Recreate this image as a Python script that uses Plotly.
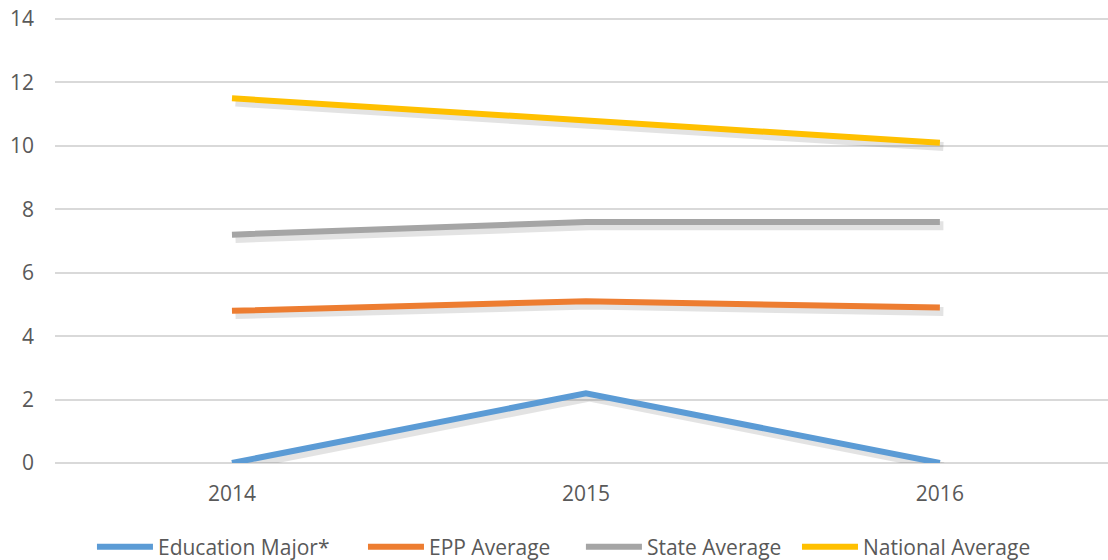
import plotly.graph_objects as go

years = ["2014", "2015", "2016"]
education_major = [0, 2.2, 0]
epp_average = [4.8, 5.1, 4.9]
state_average = [7.2, 7.6, 7.6]
national_average = [11.5, 10.8, 10.1]

series = [
    ("Education Major*", education_major, "#5B9BD5"),
    ("EPP Average", epp_average, "#ED7D31"),
    ("State Average", state_average, "#A5A5A5"),
    ("National Average", national_average, "#FFC000"),
]
legend_ids = ["legend", "legend2", "legend3", "legend4"]
legend_x = [0.0830, 0.3276, 0.5243, 0.7193]

fig = go.Figure()
xi = list(range(len(years)))
# soft drop shadows (derived from the series)
for name, vals, color in series:
    fig.add_trace(go.Scatter(
        x=[i + 0.01 for i in xi], y=[v - 0.12 for v in vals], mode="lines",
        line=dict(color="rgba(0,0,0,0.11)", width=9),
        showlegend=False, hoverinfo="skip"))
for (name, vals, color), lid in zip(series, legend_ids):
    fig.add_trace(go.Scatter(
        x=xi, y=vals, mode="lines", name=name, legend=lid,
        line=dict(color=color, width=6)))

legend_common = dict(orientation="h", xref="container", yref="container",
                     xanchor="left", yanchor="middle", y=0.0232,
                     font=dict(size=21, color="#595959"), itemwidth=56,
                     bgcolor="rgba(0,0,0,0)", borderwidth=0)
layout_legends = {lid: dict(x=lx, **legend_common) for lid, lx in zip(legend_ids, legend_x)}

fig.update_layout(
    width=1108, height=560,
    margin=dict(l=55, r=0, t=16, b=97),
    paper_bgcolor="white", plot_bgcolor="white",
    font=dict(family="Open Sans", size=21, color="#595959"),
    showlegend=True,
    **layout_legends,
)
fig.update_xaxes(
    tickmode="array", tickvals=xi, ticktext=years,
    range=[-0.5, 2.475], showgrid=False, zeroline=False, showline=False,
    ticks="", ticklabelstandoff=16, tickfont=dict(size=21, color="#595959"))
fig.update_yaxes(
    range=[0, 14.095], tickmode="array", tickvals=[0, 2, 4, 6, 8, 10, 12, 14],
    showgrid=True, gridcolor="#D9D9D9", gridwidth=1.5,
    zeroline=True, zerolinecolor="#D9D9D9", zerolinewidth=1.5, showline=False,
    ticks="", ticklabelstandoff=20, tickfont=dict(size=21, color="#595959"))

fig.write_html("out.html", config={"displayModeBar": False},
               post_script="document.body.style.margin='0';document.body.style.overflow='hidden';")
